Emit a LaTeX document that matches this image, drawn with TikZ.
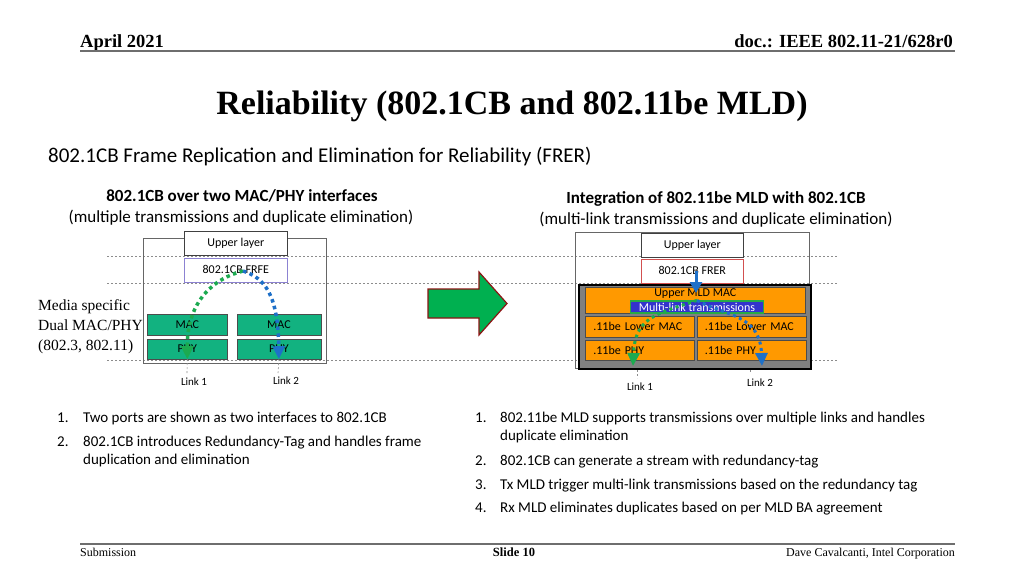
\documentclass[tikz,border=0pt]{standalone}
\usepackage{fontspec}
\setmainfont{Liberation Serif}
\newfontfamily\calibri{Carlito}
\usetikzlibrary{arrows.meta,positioning}
\definecolor{macgreen}{RGB}{18,178,128}
\definecolor{mldorange}{RGB}{255,153,0}
\definecolor{mldgray}{RGB}{128,128,128}
\definecolor{mltblue}{RGB}{51,51,204}
\definecolor{mltedge}{RGB}{40,170,70}
\definecolor{dotgreen}{RGB}{28,170,80}
\definecolor{dotblue}{RGB}{30,112,200}
\definecolor{frfeedge}{RGB}{140,130,210}
\definecolor{freredge}{RGB}{210,80,80}
\definecolor{arrgreen}{RGB}{0,176,80}
\definecolor{arrred}{RGB}{140,20,20}
\definecolor{rulegray}{RGB}{110,110,110}

\begin{document}
\begin{tikzpicture}[x=1pt, y=-1pt,
    every node/.style={inner sep=0pt, font=\calibri\fontsize{12}{14}\selectfont},
    box/.style={draw=black!75, fill=white, line width=0.6pt, minimum width=103pt, minimum height=24pt, anchor=north west},
    frame/.style={draw=black!60, line width=0.6pt, anchor=north west},
    mac/.style={draw=black!70, fill=macgreen, line width=0.6pt, minimum width=80pt, minimum height=21pt},
    lower/.style={draw=black!70, fill=mldorange, line width=0.6pt, text width=93pt, inner xsep=8pt, align=left, minimum height=21pt},
    guide/.style={black!45, line width=0.5pt, dash pattern=on 2pt off 2pt},
    linkline/.style={black!45, line width=0.6pt, dash pattern=on 2pt off 2pt},
    dotarr/.style={line width=3.5pt, dash pattern=on 3.5pt off 3.5pt, -{Triangle[width=12pt,length=13pt]}},
    solidarr/.style={line width=3pt, -{Triangle[width=12pt,length=11pt]}},
    note/.style={font=\calibri\fontsize{15}{18}\selectfont, anchor=base west, align=left},
    hdr/.style={font=\bfseries\fontsize{18.5}{20}\selectfont},
    foot/.style={font=\fontsize{12}{14}\selectfont}
]
\useasboundingbox (0,0) rectangle (1024,576);

% header and footer
\node[hdr, anchor=base west] (date) at (80,47) {April 2021};
\node[hdr, anchor=base east] (doc) at (953,47) {doc.: IEEE 802.11-21/628r0};
\draw[rulegray, line width=2.5pt] (80,51) -- (955,51);
\draw[rulegray, line width=2.5pt] (80,544) -- (955,544);
\node[foot, anchor=base west] (sub) at (80,556) {Submission};
\node[foot, anchor=base, font=\bfseries\fontsize{12.5}{14}\selectfont] (slide) at (514,556) {Slide 10};
\node[foot, anchor=base east] (author) at (955,556) {Dave Cavalcanti, Intel Corporation};

\node[anchor=base, font=\bfseries\fontsize{34}{38}\selectfont] (title) at (512,114) {Reliability (802.1CB and 802.11be MLD)};
\node[anchor=base west, font=\calibri\fontsize{21}{24}\selectfont] (frer) at (48,162) {802.1CB Frame Replication and Elimination for Reliability (FRER)};

\node[anchor=base, font=\calibri\bfseries\fontsize{17}{20}\selectfont] (lhead) at (242,201) {802.1CB over two MAC/PHY interfaces};
\node[anchor=base, font=\calibri\fontsize{17}{20}\selectfont] (lsub) at (241,222) {(multiple transmissions and duplicate elimination)};
\node[anchor=base, font=\calibri\bfseries\fontsize{17}{20}\selectfont] (rhead) at (716,203) {Integration of 802.11be MLD with 802.1CB};
\node[anchor=base, font=\calibri\fontsize{17}{20}\selectfont] (rsub) at (716,224) {(multi-link transmissions and duplicate elimination)};

% dashed guides
\foreach \y in {256,283,360}
  \draw[guide] (107,\y) -- (838,\y);

% left stack
\node[frame, minimum width=183pt, minimum height=125pt] (lframe) at (143,238) {};
\node[box] (upL) at (184,231) {Upper layer};
\node[box, draw=frfeedge, below=2pt of upL] (frfe) {802.1CB FRFE};
\node[mac, anchor=north west] (mac1) at (147,314) {MAC};
\node[mac, below=3pt of mac1, minimum height=20pt] (phy1) {PHY};
\node[mac, right=9pt of mac1, minimum width=84pt] (mac2) {MAC};
\node[mac, below=3pt of mac2, minimum width=84pt, minimum height=20pt] (phy2) {PHY};
\node[anchor=base west, align=left, font=\fontsize{15.5}{20}\selectfont] (media) at (38,350) {Media specific\\Dual MAC/PHY\\(802.3, 802.11)};

\coordinate (split) at (243,271);
\coordinate (lk1) at (187,373);
\coordinate (lk2) at (278,373);
\draw[linkline] (phy1.south) -- (lk1);
\draw[linkline] (phy2.south) -- (lk2);
\node[font=\calibri\fontsize{11}{13}\selectfont] (lk1txt) at (194,382) {Link 1};
\node[font=\calibri\fontsize{11}{13}\selectfont] (lk2txt) at (286,381) {Link 2};
\draw[dotarr, dotgreen] (split) .. controls (215,278) and (187,300) .. (phy1.south);
\draw[dotarr, dotblue] (split) .. controls (265,278) and (278,295) .. (phy2.south);

% big arrow
\draw[fill=arrgreen, draw=arrred, line width=1.2pt] (428,289) -- (479,289) -- (479,272) -- (507,303.5) -- (479,335) -- (479,318) -- (428,318) -- cycle;

% right stack
\node[frame, minimum width=234pt, minimum height=136pt] (rframe) at (575,232) {};
\node[box, minimum width=102pt] (upR) at (641,233) {Upper layer};
\node[box, minimum width=102pt, draw=freredge, below=1pt of upR] (frer) {802.1CB FRER};
\node[frame, fill=mldgray, draw=black, line width=2pt, minimum width=232pt, minimum height=84pt] (mld) at (578,284) {};
\node[draw=black!70, fill=mldorange, line width=0.6pt, minimum width=220pt, minimum height=26pt, anchor=north west] (upmld) at (585,287) {};
\node[anchor=north, inner sep=1.5pt] (upmldtxt) at (upmld.north) {Upper MLD MAC};
\node[draw=mltedge, fill=mltblue, line width=1.2pt, text=white, minimum width=133pt, minimum height=12pt] (mlt) at (697,307) {Multi-link transmissions};
\node[lower, anchor=north west] (lm1) at (585,316) {.11be Lower MAC};
\node[lower, right=2pt of lm1] (lm2) {.11be Lower MAC};
\node[lower, below=2pt of lm1, minimum height=20pt] (ph1) {.11be PHY};
\node[lower, below=2pt of lm2, minimum height=20pt] (ph2) {.11be PHY};

\coordinate (mldin) at (696,293);
\draw[solidarr, dotblue] (frer.center -| mldin) -- (mldin);
\coordinate (rk1) at (637,378);
\coordinate (rk2) at (750,374);
\draw[linkline] (mld.south -| rk1) -- (rk1);
\draw[linkline] (mld.south -| rk2) -- (rk2);
\node[font=\calibri\fontsize{11}{13}\selectfont] (rk1txt) at (640,387) {Link 1};
\node[font=\calibri\fontsize{11}{13}\selectfont] (rk2txt) at (760,383) {Link 2};
\coordinate (rtip1) at (633,366);
\coordinate (rtip2) at (762,366);
\draw[dotarr, dotgreen, line width=3pt, dash pattern=on 3pt off 3.5pt] (mlt.north) .. controls (655,314) and (635,318) .. (rtip1);
\draw[dotarr, dotblue, line width=3pt, dash pattern=on 3pt off 3.5pt] (mlt.north) .. controls (725,316) and (760,314) .. (rtip2);

% bullet lists
\node[note] (n1) at (57,422) {1.};
\node[note] (t1) at (83,422) {Two ports are shown as two interfaces to 802.1CB};
\node[note] (n2) at (57,446) {2.};
\node[note] (t2) at (83,464) {802.1CB introduces Redundancy-Tag and handles frame\\duplication and elimination};
\node[note] (m1) at (475,422) {1.};
\node[note] (s1) at (500,440) {802.11be MLD supports transmissions over multiple links and handles\\duplicate elimination};
\node[note] (m2) at (475,465) {2.};
\node[note] (s2) at (500,465) {802.1CB can generate a stream with redundancy-tag};
\node[note] (m3) at (475,489) {3.};
\node[note] (s3) at (500,489) {Tx MLD trigger multi-link transmissions based on the redundancy tag};
\node[note] (m4) at (475,512) {4.};
\node[note] (s4) at (500,512) {Rx MLD eliminates duplicates based on per MLD BA agreement};
\end{tikzpicture}
\end{document}
